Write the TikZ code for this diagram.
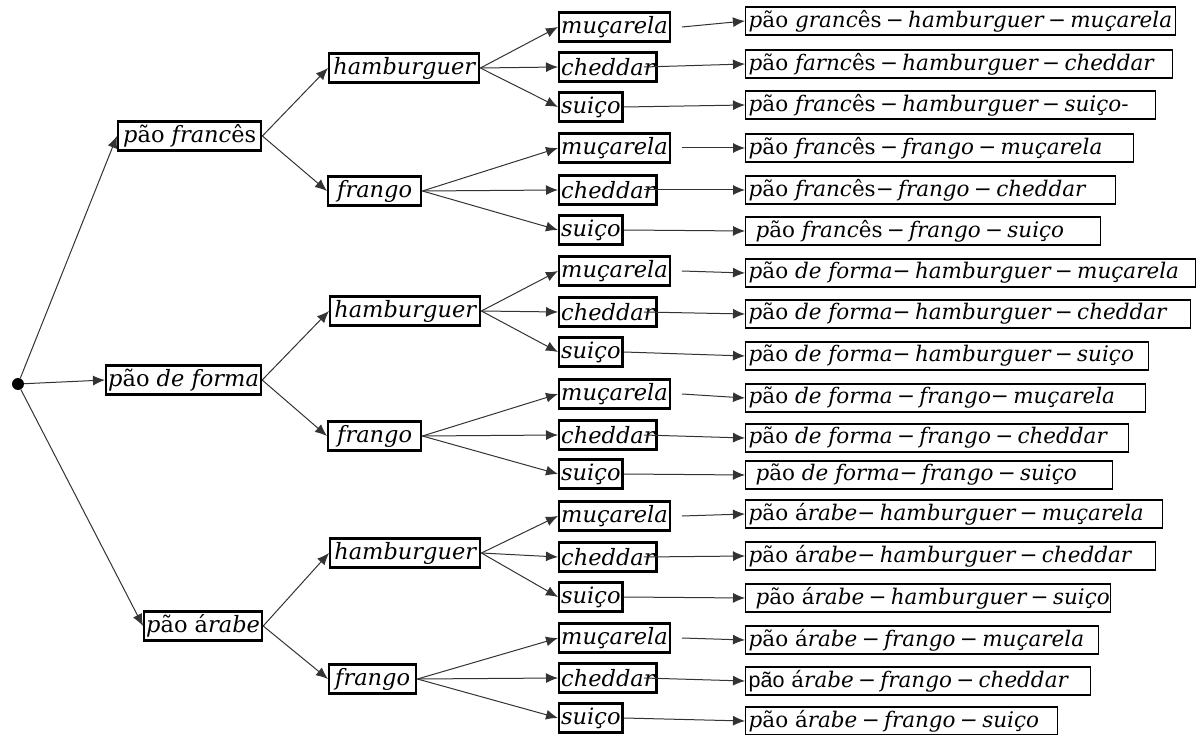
\documentclass[tikz,border=0pt]{standalone}
\usepackage{fontspec}
\setmainfont{DejaVu Serif}
\newfontfamily\plainsans{Liberation Sans}
\usetikzlibrary{arrows.meta}

% accented letters stay upright inside the italic labels
\newcommand\up[1]{{\upshape #1}}
\newcommand\mn{\hspace{0.2em}−\hspace{0.2em}}
\newcommand\mt{−\hspace{0.2em}}
% result box: name, centre y, width, text
\newcommand\Leaf[4]{\node[leafbox, minimum width=#3pt] (#1) at (745,#2)
  {\makebox[\dimexpr#3pt-6pt\relax][l]{#4}};}

\tikzset{
  every node/.style={font=\itshape\fontsize{21.5}{25}\selectfont},
  choice/.style={draw, line width=2.4pt, inner xsep=2pt, inner ysep=0pt,
    minimum height=29pt, anchor=west, font=\itshape\fontsize{22.5}{26}\selectfont},
  leafbox/.style={draw, line width=1.4pt, inner xsep=3pt, inner ysep=0pt,
    minimum height=28pt, anchor=west},
  link/.style={line width=1pt, draw=black!80,
    -{Latex[length=12pt,width=10pt]}},
}

\begin{document}
\begin{tikzpicture}[x=1pt,y=-1pt]
\useasboundingbox (0,0) rectangle (1200,735);

% start point
\node[circle, fill, inner sep=0pt, minimum size=12pt] (root) at (18,384) {};

% bread
\node[choice, minimum width=143pt] (b1) at (117,136) {p\up{ão} franc\up{ês}};
\node[choice, minimum width=154pt] (b2) at (105,380) {p\up{ão} de forma};
\node[choice, minimum width=114pt] (b3) at (143,626) {p\up{ão} \up{á}rabe};

% meat
\node[choice, minimum width=150pt] (h1) at (328,68)  {hamburguer};
\node[choice, minimum width=93pt]  (g1) at (327,191) {frango};
\node[choice, minimum width=150pt] (h2) at (329,311) {hamburguer};
\node[choice, minimum width=93pt]  (g2) at (327,436) {frango};
\node[choice, minimum width=150pt] (h3) at (329,553) {hamburguer};
\node[choice, minimum width=87pt]  (g3) at (328,679) {frango};

% cheese
\foreach \k/\ya/\yb/\yc in {1/27/67/107, 2/148/190/230, 3/271/312/352,
                            4/394/435/474, 5/516/557/597, 6/638/678/718}{
  \node[choice, minimum width=109pt] (m\k) at (558,\ya) {muçarela};
  \node[choice, minimum width=96pt]  (c\k) at (558,\yb) {cheddar};
  \node[choice, minimum width=63pt]  (s\k) at (558,\yc) {suiço};
}

% combinations
\Leaf{r1}{21}{430}{p\up{ão} granc\up{ês}\mn hamburguer\mn muçarela}
\Leaf{r2}{64}{427}{p\up{ão} farnc\up{ês}\mn hamburguer\mn cheddar}
\Leaf{r3}{105}{410}{p\up{ão} franc\up{ês}\mn hamburguer\mn suiço-}
\Leaf{r4}{148}{388}{p\up{ão} franc\up{ês}\mn frango\mn muçarela}
\Leaf{r5}{190}{370}{p\up{ão} franc\up{ês}\mt frango\mn cheddar}
\Leaf{r6}{231}{355}{\ p\up{ão} franc\up{ês}\mn frango\mn suiço}
\Leaf{r7}{273}{450}{p\up{ão} de forma\mt hamburguer\mn muçarela}
\Leaf{r8}{314}{445}{p\up{ão} de forma\mt hamburguer\mn cheddar}
\Leaf{r9}{356}{403}{p\up{ão} de forma\mt hamburguer\mn suiço}
\Leaf{r10}{398}{400}{p\up{ão} de forma\mn frango\mt muçarela}
\Leaf{r11}{438}{383}{p\up{ão} de forma\mn frango\mn cheddar}
\Leaf{r12}{475}{367}{\ p\up{ão} de forma\mt frango\mn suiço}
\Leaf{r13}{514}{417}{p\up{ão} \up{á}rabe\mt hamburguer\mn muçarela}
\Leaf{r14}{556}{410}{p\up{ão} \up{á}rabe\mt hamburguer\mn cheddar}
\Leaf{r15}{598}{365}{\ p\up{ão} \up{á}rabe\mn hamburguer\mn suiço}
\Leaf{r16}{640}{353}{p\up{ão} \up{á}rabe\mn frango\mn muçarela}
\Leaf{r17}{681}{345}{{\upshape\plainsans pão} \up{á}rabe\mn frango\mn cheddar}
\Leaf{r18}{721}{312}{p\up{ão} \up{á}rabe\mn frango\mn suiço}

% connectors
\foreach \b in {b1,b2,b3} \draw[link] (root) -- (\b.west);
\draw[link] (b1.east) -- (h1.west);  \draw[link] (b1.east) -- (g1.west);
\draw[link] (b2.east) -- (h2.west);  \draw[link] (b2.east) -- (g2.west);
\draw[link] (b3.east) -- (h3.west);  \draw[link] (b3.east) -- (g3.west);
\foreach \p/\k in {h1/1, g1/2, h2/3, g2/4, h3/5, g3/6}{
  \draw[link] (\p.east) -- (m\k.west);
  \draw[link] (\p.east) -- (c\k.west);
  \draw[link] (\p.east) -- (s\k.west);
}
\foreach \k/\a/\b/\c in {1/r1/r2/r3, 2/r4/r5/r6, 3/r7/r8/r9,
                         4/r10/r11/r12, 5/r13/r14/r15, 6/r16/r17/r18}{
  \draw[link] ([xshift=11pt]m\k.east) -- (\a.west);
  \draw[link] ([xshift=-14pt]c\k.east) -- (\b.west);
  \draw[link] (s\k.east) -- (\c.west);
}
\end{tikzpicture}
\end{document}
